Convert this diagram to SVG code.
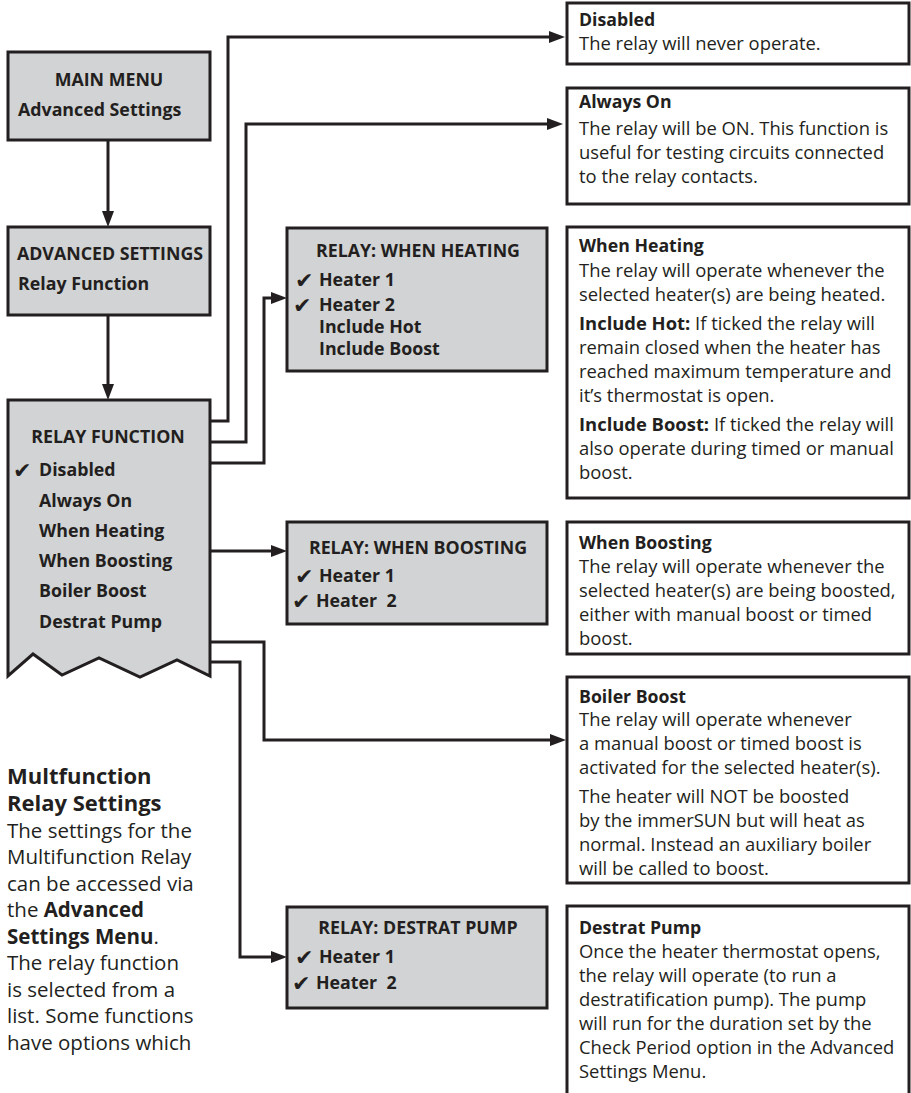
<svg xmlns="http://www.w3.org/2000/svg" width="911" height="1093" viewBox="0 0 911 1093">
<defs>
<style>
.menu{fill:#d1d3d4;stroke:#231f20;stroke-width:3}
.info{fill:#ffffff;stroke:#231f20;stroke-width:3}
.t{font-family:"Open Sans","Liberation Sans",sans-serif;fill:#231f20}
.mb{font-size:17.8px;font-weight:bold}
.ib{font-size:17.7px;font-weight:bold}
.ir{font-size:18.4px;font-weight:normal}
.ck{font-family:"DejaVu Sans",sans-serif;font-size:22px;fill:#231f20}
.c{text-anchor:middle}
.conn{fill:none;stroke:#231f20;stroke-width:3}
</style>
<marker id="ah" viewBox="0 0 16 12" refX="6" refY="6" markerWidth="16" markerHeight="12" markerUnits="userSpaceOnUse" orient="auto">
<path d="M0,0 L16,6 L0,12 z" fill="#231f20"/>
</marker>
</defs>
<rect x="0" y="0" width="911" height="1093" fill="#ffffff"/>

<g id="connectors">
<path class="conn" d="M108,140 V217" marker-end="url(#ah)"/>
<path class="conn" d="M108,315 V390" marker-end="url(#ah)"/>
<path class="conn" d="M210,421 H228 V37 H555" marker-end="url(#ah)"/>
<path class="conn" d="M210,442 H246 V124 H553" marker-end="url(#ah)"/>
<path class="conn" d="M210,463 H264 V298 H277" marker-end="url(#ah)"/>
<path class="conn" d="M210,551 H277" marker-end="url(#ah)"/>
<path class="conn" d="M210,642 H264 V740 H556" marker-end="url(#ah)"/>
<path class="conn" d="M210,662 H240 V957 H277" marker-end="url(#ah)"/>
</g>

<g id="main-menu">
<rect class="menu" x="8" y="52" width="202" height="88"/>
<text class="t mb c" x="109" y="86">MAIN MENU</text>
<text class="t mb" x="18" y="116">Advanced Settings</text>
</g>

<g id="advanced-settings">
<rect class="menu" x="8" y="227" width="202" height="88"/>
<text class="t mb c" x="110" y="260">ADVANCED SETTINGS</text>
<text class="t mb" x="18" y="290">Relay Function</text>
</g>

<g id="relay-function">
<path class="menu" d="M8,400 H210 V676 L177,660 L140,677 L99,658 L62,675 L33,654 L8,676 Z"/>
<text class="t mb c" x="108" y="443">RELAY FUNCTION</text>
<text class="ck" x="13" y="478">✔</text>
<text class="t mb" x="39" y="476">Disabled</text>
<text class="t mb" x="39" y="507">Always On</text>
<text class="t mb" x="39" y="537">When Heating</text>
<text class="t mb" x="39" y="567">When Boosting</text>
<text class="t mb" x="39" y="597">Boiler Boost</text>
<text class="t mb" x="39" y="628">Destrat Pump</text>
</g>

<g id="relay-when-heating">
<rect class="menu" x="287" y="228" width="260" height="143"/>
<text class="t mb c" x="418" y="257">RELAY: WHEN HEATING</text>
<text class="ck" x="295" y="288">✔</text>
<text class="t mb" x="319" y="286">Heater 1</text>
<text class="ck" x="293" y="313">✔</text>
<text class="t mb" x="319" y="311">Heater 2</text>
<text class="t mb" x="319" y="333">Include Hot</text>
<text class="t mb" x="319" y="355">Include Boost</text>
</g>

<g id="relay-when-boosting">
<rect class="menu" x="287" y="522" width="260" height="102"/>
<text class="t mb c" x="418" y="554">RELAY: WHEN BOOSTING</text>
<text class="ck" x="295" y="584">✔</text>
<text class="t mb" x="319" y="582">Heater 1</text>
<text class="ck" x="292" y="609">✔</text>
<text class="t mb" x="316" y="607" xml:space="preserve">Heater  2</text>
</g>

<g id="relay-destrat-pump">
<rect class="menu" x="287" y="907" width="260" height="101"/>
<text class="t mb c" x="418" y="934">RELAY: DESTRAT PUMP</text>
<text class="ck" x="295" y="965">✔</text>
<text class="t mb" x="319" y="963">Heater 1</text>
<text class="ck" x="292" y="991">✔</text>
<text class="t mb" x="316" y="989" xml:space="preserve">Heater  2</text>
</g>

<g id="info-disabled">
<rect class="info" x="567" y="3" width="342" height="61"/>
<text class="t ib" x="579" y="26">Disabled</text>
<text class="t ir" x="579" y="50">The relay will never operate.</text>
</g>

<g id="info-always-on">
<rect class="info" x="567" y="88" width="342" height="116"/>
<text class="t ib" x="579" y="108">Always On</text>
<text class="t ir" x="579" y="135">The relay will be ON. This function is</text>
<text class="t ir" x="579" y="159">useful for testing circuits connected</text>
<text class="t ir" x="579" y="183">to the relay contacts.</text>
</g>

<g id="info-when-heating">
<rect class="info" x="567" y="227" width="342" height="271"/>
<text class="t ib" x="579" y="252">When Heating</text>
<text class="t ir" x="579" y="277">The relay will operate whenever the</text>
<text class="t ir" x="579" y="301">selected heater(s) are being heated.</text>
<text class="t ir" x="579" y="330"><tspan font-weight="bold">Include Hot:</tspan> If ticked the relay will</text>
<text class="t ir" x="579" y="354">remain closed when the heater has</text>
<text class="t ir" x="579" y="378">reached maximum temperature and</text>
<text class="t ir" x="579" y="402">it’s thermostat is open.</text>
<text class="t ir" x="579" y="431"><tspan font-weight="bold">Include Boost:</tspan> If ticked the relay will</text>
<text class="t ir" x="579" y="455">also operate during timed or manual</text>
<text class="t ir" x="579" y="479">boost.</text>
</g>

<g id="info-when-boosting">
<rect class="info" x="567" y="522" width="342" height="132"/>
<text class="t ib" x="579" y="549">When Boosting</text>
<text class="t ir" x="579" y="573">The relay will operate whenever the</text>
<text class="t ir" x="579" y="597">selected heater(s) are being boosted,</text>
<text class="t ir" x="579" y="621">either with manual boost or timed</text>
<text class="t ir" x="579" y="645">boost.</text>
</g>

<g id="info-boiler-boost">
<rect class="info" x="567" y="677" width="342" height="206"/>
<text class="t ib" x="579" y="703">Boiler Boost</text>
<text class="t ir" x="579" y="726">The relay will operate whenever</text>
<text class="t ir" x="579" y="750">a manual boost or timed boost is</text>
<text class="t ir" x="579" y="774">activated for the selected heater(s).</text>
<text class="t ir" x="579" y="803">The heater will NOT be boosted</text>
<text class="t ir" x="579" y="827">by the immerSUN but will heat as</text>
<text class="t ir" x="579" y="851">normal. Instead an auxiliary boiler</text>
<text class="t ir" x="579" y="875">will be called to boost.</text>
</g>

<g id="info-destrat-pump">
<rect class="info" x="567" y="906" width="342" height="200"/>
<text class="t ib" x="579" y="934">Destrat Pump</text>
<text class="t ir" x="579" y="958">Once the heater thermostat opens,</text>
<text class="t ir" x="579" y="982">the relay will operate (to run a</text>
<text class="t ir" x="579" y="1006">destratification pump). The pump</text>
<text class="t ir" x="579" y="1030">will run for the duration set by the</text>
<text class="t ir" x="579" y="1054">Check Period option in the Advanced</text>
<text class="t ir" x="579" y="1078">Settings Menu.</text>
</g>

<g id="intro-text">
<text class="t" font-size="22" font-weight="bold" x="7" y="784">Multfunction</text>
<text class="t" font-size="22" font-weight="bold" x="7" y="811">Relay Settings</text>
<text class="t" font-size="20.5" x="7" y="838">The settings for the</text>
<text class="t" font-size="20.5" x="7" y="864">Multifunction Relay</text>
<text class="t" font-size="20.5" x="7" y="891">can be accessed via</text>
<text class="t" font-size="20.5" x="7" y="917">the <tspan font-weight="bold">Advanced</tspan></text>
<text class="t" font-size="20.5" x="7" y="944"><tspan font-weight="bold">Settings Menu</tspan>.</text>
<text class="t" font-size="20.5" x="7" y="970">The relay function</text>
<text class="t" font-size="20.5" x="7" y="997">is selected from a</text>
<text class="t" font-size="20.5" x="7" y="1023">list. Some functions</text>
<text class="t" font-size="20.5" x="7" y="1050">have options which</text>
</g>
</svg>
